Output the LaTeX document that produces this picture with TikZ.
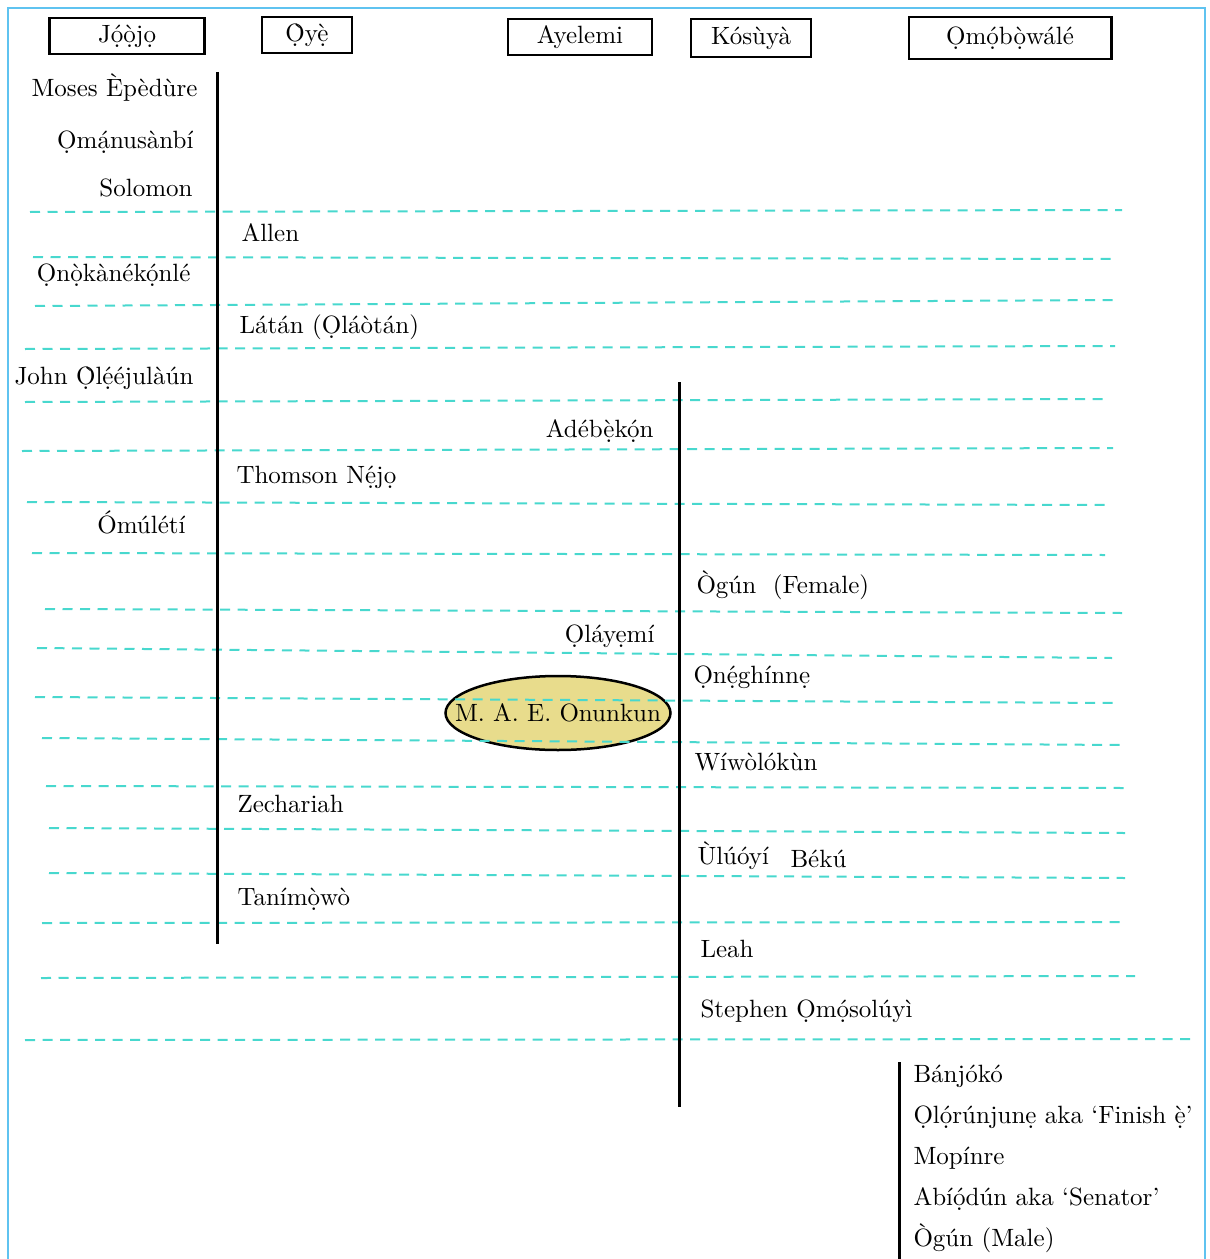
\documentclass[tikz,border=0pt]{standalone}
\usepackage{xcolor}
\usepackage{tikz}
\usetikzlibrary{positioning,shapes.geometric}

\definecolor{framecol}{RGB}{95,195,240}
\definecolor{rulecol}{RGB}{72,216,206}
\definecolor{selfcol}{RGB}{232,220,140}

\begin{document}
\begin{tikzpicture}[
    x=0.4pt, y=-0.4pt,
    head/.style={rectangle, draw, line width=1pt, minimum height=14.5pt, inner sep=2pt},
    kinl/.style={anchor=base west, inner sep=0pt},
    kinr/.style={anchor=base east, inner sep=0pt},
    self/.style={ellipse, draw, line width=1pt, fill=selfcol, minimum width=90pt, minimum height=29.6pt, inner xsep=-9.5pt, inner ysep=0pt},
    gen/.style={rulecol, line width=0.8pt, dash pattern=on 4pt off 3pt},
    branch/.style={line width=1.2pt}
]
\useasboundingbox (0,0) rectangle (1210,1259);
\draw[framecol, line width=1pt] (8,1259) -- (8,8) -- (1205,8) -- (1205,1259);

% Header: the five houses
\node[head, minimum width=62pt] (jojo) at (127,36) {Jọ́ọ̀jọ};
\node[head, minimum width=36pt] (oye) at (307,35) {Ọ̀yẹ̀};
\node[head, minimum width=57.6pt] (ayelemi) at (580,37) {Ayelemi};
\node[head, minimum width=48pt, minimum height=15.2pt] (kosuya) at (751,38) {Kósùyà};
\node[head, minimum width=81pt, minimum height=16.8pt] (omobowale) at (1010,38) {Ọmọ́bọ̀wálé};

% Self
\node[self] (onunkun) at (558,713) {M. A. E. Onunkun};

% Generation rules
\foreach \xa/\ya/\xb/\yb in {30/212/1122/210, 33/257/1115/259, 35/306/1113/300,
    25/349/1115/346, 25/402/1105/399, 22/451/1113/448, 27/502/1107/505,
    32/553/1105/555, 45/609/1122/613, 37/648/1112/658, 35/697/1115/703,
    42/738/1122/745, 46/786/1125/788, 49/828/1125/833, 49/873/1125/878,
    42/923/1120/922, 41/978/1135/976, 25/1040/1197/1039}
  \draw[gen] (\xa,\ya) -- (\xb,\yb);

% Descent lines
\coordinate (jtop) at (217,72);
\coordinate (jbot) at (217,944);
\coordinate (ktop) at (679,382);
\coordinate (kbot) at (679,1107);
\coordinate (otop) at (899,1062);
\coordinate (obot) at (899,1259);
\draw[branch] (jtop) -- (jbot);
\draw[branch] (ktop) -- (kbot);
\draw[branch] (otop) -- (obot);

% Jọ́ọ̀jọ side
\node[kinr] (moses) at (198,97) {Moses Èpèdùre};
\node[kinr] (omanu) at (194,149) {Ọmạ́nusànbí};
\node[kinr] (solomon) at (193,196) {Solomon};
\node[kinr] (onoka) at (191,281) {Ọnọ̀kànékọ́nlé};
\node[kinr] (john) at (194,384) {John Ọ̀lẹ́éjulàún};
\node[kinr] (omuleti) at (186,533) {Ómúlétí};

% Ọ̀yẹ̀ side
\node[kinl] (allen) at (241,241) {Allen};
\node[kinl] (latan) at (239,333) {Látán (Ọláòtán)};
\node[kinl] (thomson) at (236,483) {Thomson Nẹ́jọ};
\node[kinl] (zechariah) at (237,812) {Zechariah};
\node[kinl] (tanimowo) at (237,905) {Tanímọ̀wò};

% Ayelemi side
\node[kinr] (adebekon) at (654,437) {Adébẹ̀kọ́n};
\node[kinr] (olayemi) at (655,642) {Ọláyẹmí};

% Kósùyà side
\node[kinl] (ogunf) at (696,593) {Ògún\ \ (Female)};
\node[kinl] (oneghinne) at (693,683) {Ọnẹ́ghínnẹ};
\node[kinl] (wiwolokun) at (694,770) {Wíwòlókùn};
\node[kinl] (uluoyi) at (697,864) {Ùlúóyí};
\node[kinl] (beku) at (790,867) {Békú};
\node[kinl] (leah) at (700,957) {Leah};
\node[kinl] (stephen) at (700,1017) {Stephen Ọmọ́solúyì};

% Ọmọ́bọ̀wálé side
\node[kinl] (banjoko) at (913,1082) {Bánjókó};
\node[kinl, below right=16.4pt and 0pt of banjoko.base west, anchor=base west] (olorun) {Ọlọ́rúnjunẹ aka ‘Finish ẹ̀’};
\node[kinl, below right=16.4pt and 0pt of olorun.base west, anchor=base west] (mopinre) {Mopínre};
\node[kinl, below right=16.4pt and 0pt of mopinre.base west, anchor=base west] (abiodun) {Abíọ́dún aka ‘Senator’};
\node[kinl, below right=16.4pt and 0pt of abiodun.base west, anchor=base west] (ogunm) {Ògún (Male)};

\end{tikzpicture}
\end{document}
